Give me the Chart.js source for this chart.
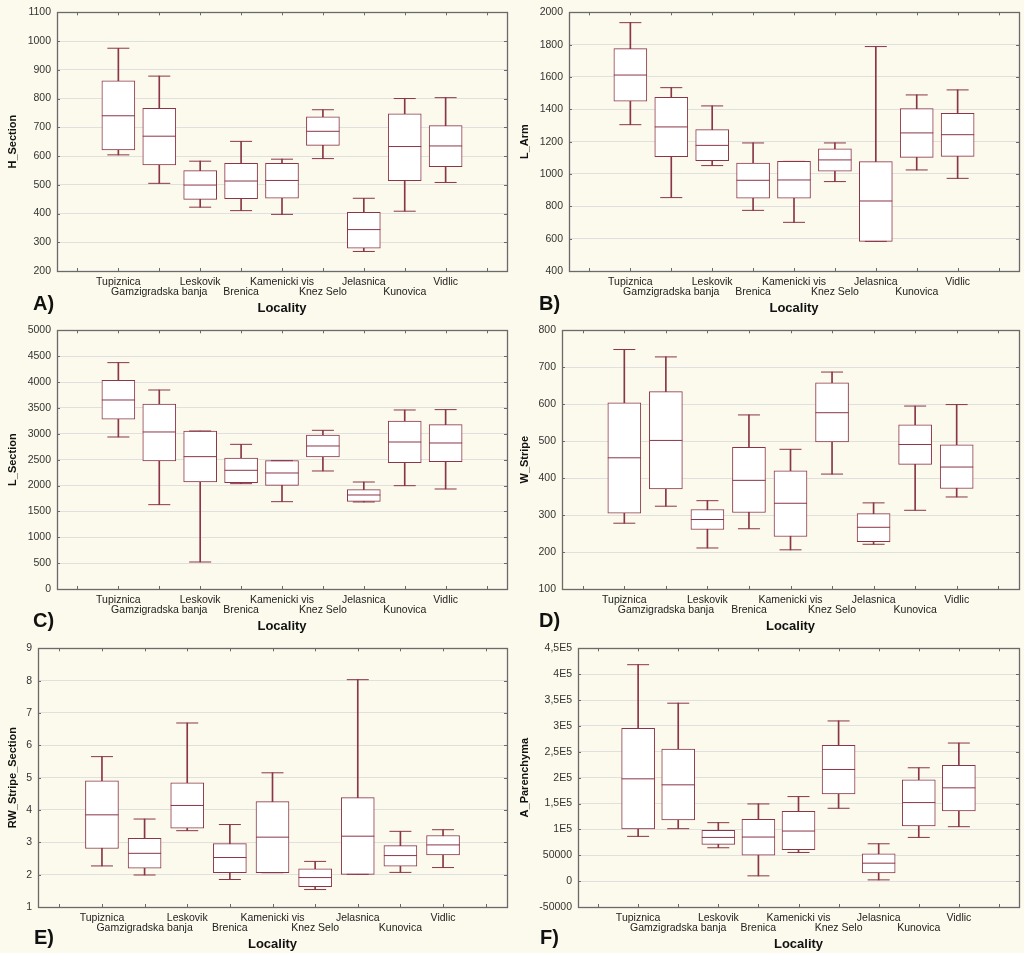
<!DOCTYPE html>
<html><head><meta charset="utf-8">
<script src="https://cdn.jsdelivr.net/npm/chart.js@4.4.1/dist/chart.umd.min.js"></script>
<style>
html,body{margin:0;padding:0;background:#fcfaec;}
#wrap{position:relative;width:1024px;height:953px;overflow:hidden;background:#fcfaec;}
.pc{position:absolute;}
.plabel{position:absolute;font:bold 20px 'Liberation Sans',Arial,sans-serif;color:#111;line-height:20px;}
</style></head><body><div id="wrap"></div>
<script>
// ---- categories ----
const localities = ['Tupiznica','Gamzigradska banja','Leskovik','Brenica','Kamenicki vis','Knez Selo','Jelasnica','Kunovica','Vidlic'];

// ---- A) H_Section ----
const hMin = [604, 505, 422, 410, 397, 591, 268, 408, 508];
const hQ1  = [621, 569, 449, 452, 453, 637, 279, 514, 563];
const hMed = [740, 669, 499, 513, 515, 686, 344, 633, 635];
const hQ3  = [862, 766, 549, 575, 575, 736, 404, 747, 706];
const hMax = [975, 878, 582, 651, 589, 761, 453, 800, 803];

// ---- B) L_Arm ----
const aMin = [1305, 854, 1052, 775, 701, 953, 583, 1025, 973];
const aQ1  = [1450, 1107, 1083, 850, 850, 1017, 583, 1103, 1109];
const aMed = [1612, 1291, 1177, 961, 963, 1087, 833, 1254, 1243];
const aQ3  = [1775, 1474, 1274, 1068, 1078, 1155, 1076, 1404, 1375];
const aMax = [1936, 1534, 1421, 1192, 1078, 1192, 1788, 1489, 1520];

// ---- C) L_Section ----
const lMin = [2938, 1630, 522, 2036, 1688, 2281, 1682, 1997, 1933];
const lQ1  = [3280, 2474, 2068, 2055, 2004, 2551, 1695, 2442, 2461];
const lMed = [3653, 3035, 2558, 2294, 2242, 2764, 1817, 2841, 2822];
const lQ3  = [4033, 3576, 3054, 2532, 2481, 2977, 1920, 3247, 3176];
const lMax = [4375, 3846, 3054, 2796, 2481, 3067, 2068, 3460, 3467];

// ---- D) W_Stripe ----
const wMin = [278, 324, 211, 263, 206, 411, 221, 313, 349];
const wQ1  = [305, 371, 261, 307, 242, 498, 228, 437, 372];
const wMed = [455, 502, 288, 394, 332, 577, 267, 491, 430];
const wQ3  = [604, 634, 315, 483, 420, 658, 304, 544, 490];
const wMax = [748, 728, 339, 571, 478, 687, 333, 595, 599];

// ---- E) RW_Stripe_Section ----
const rMin = [2.27, 1.99, 3.36, 1.85, 2.06, 1.54, 2.01, 2.07, 2.22];
const rQ1  = [2.81, 2.20, 3.44, 2.06, 2.06, 1.63, 2.01, 2.26, 2.61];
const rMed = [3.85, 2.66, 4.14, 2.53, 3.16, 1.91, 3.19, 2.59, 2.92];
const rQ3  = [4.90, 3.12, 4.84, 2.96, 4.26, 2.18, 4.38, 2.90, 3.21];
const rMax = [5.65, 3.72, 6.69, 3.55, 5.15, 2.41, 8.03, 3.34, 3.39];

// ---- F) A_Parenchyma ----
const pMin = [86500, 101400, 64500, 10200, 55400, 140800, 2400, 84500, 105200];
const pQ1  = [100700, 118200, 71000, 50300, 60600, 168600, 16000, 106500, 135600];
const pMed = [197700, 186100, 84500, 85200, 96800, 215800, 34700, 151800, 180300];
const pQ3  = [295400, 255300, 98100, 119500, 135000, 262400, 52800, 195800, 223600];
const pMax = [418300, 343900, 113000, 149200, 163400, 309600, 72200, 219100, 266900];
const pTickLabels = ['-50000','0','50000','1E5','1,5E5','2E5','2,5E5','3E5','3,5E5','4E5','4,5E5'];

// ---- drawing ----
const FONT = "'Liberation Sans', Arial, sans-serif";
const BOXC = '#8a3648';
const FRAME = '#6a6a6a';
const PADT = 8, PADR = 4, XH = 45;

const framePlugin = {
  id: 'frame',
  afterDraw(chart) {
    const {ctx, chartArea: a, scales: {x, y}} = chart;
    ctx.save();
    ctx.strokeStyle = FRAME;
    ctx.lineWidth = 1;
    ctx.beginPath();
    for (let i = 0; i < x.ticks.length; i++) {
      const px = Math.round(x.getPixelForTick(i)) + 0.5;
      ctx.moveTo(px, a.bottom); ctx.lineTo(px, a.bottom - 3);
      ctx.moveTo(px, a.top); ctx.lineTo(px, a.top + 3);
    }
    for (let i = 0; i < y.ticks.length; i++) {
      const py = Math.round(y.getPixelForTick(i)) + 0.5;
      ctx.moveTo(a.left, py); ctx.lineTo(a.left + 3, py);
      ctx.moveTo(a.right, py); ctx.lineTo(a.right - 3, py);
    }
    ctx.stroke();
    ctx.lineWidth = 1.3;
    ctx.strokeRect(Math.round(a.left) + 0.5, Math.round(a.top) + 0.5,
                   Math.round(a.right - a.left), Math.round(a.bottom - a.top));
    ctx.restore();
  }
};

function pad(arr) { return [null, ...arr, null]; }

function makeConfig(p, yw) {
  const pt = (data, r, order) => ({
    type: 'line', data: pad(data), showLine: false, pointStyle: 'line',
    pointRadius: r, pointHoverRadius: r, pointBorderColor: BOXC, pointBorderWidth: 1,
    pointBackgroundColor: BOXC, order
  });
  return {
    type: 'bar',
    data: {
      labels: ['', ...localities, ''],
      datasets: [
        pt(p.med, 16.5, 0),
        pt(p.max, 11, 1),
        pt(p.min, 11, 1),
        { type: 'bar', data: pad(p.q1.map((v, i) => [v, p.q3[i]])), backgroundColor: '#ffffff',
          borderColor: BOXC, borderWidth: 1, borderSkipped: false, barThickness: 33, grouped: false, order: 2 },
        { type: 'bar', data: pad(p.min.map((v, i) => [v, p.max[i]])), backgroundColor: BOXC,
          borderWidth: 0, barThickness: 1, grouped: false, order: 3 }
      ]
    },
    options: {
      responsive: false, maintainAspectRatio: false, animation: false,
      layout: { autoPadding: false, padding: { top: PADT, right: PADR, left: 0, bottom: 0 } },
      plugins: { legend: { display: false }, tooltip: { enabled: false } },
      scales: {
        x: {
          type: 'category', offset: true,
          grid: { display: false, drawTicks: false },
          border: { display: false },
          ticks: {
            autoSkip: false, maxRotation: 0, minRotation: 0, padding: 6,
            color: '#222', font: { family: FONT, size: 10.5, lineHeight: 0.95 },
            callback: function (val, idx) {
              const name = this.getLabelForValue(val);
              if (!name) return '';
              return (idx % 2 === 1) ? [name] : ['', name];
            }
          },
          title: { display: true, text: 'Locality', color: '#111',
                   font: { family: FONT, size: 13, weight: 'bold', lineHeight: 1.2 },
                   padding: { top: 0, bottom: 0 } },
          afterFit(s) { s.height = XH; }
        },
        y: {
          type: 'linear', min: p.yMin, max: p.yMax,
          grid: { color: '#e0e0e0', drawTicks: false, lineWidth: 1 },
          border: { display: false },
          ticks: {
            stepSize: p.step, padding: 6, color: '#333',
            font: { family: FONT, size: 10.5 },
            callback: p.tickLabels ? ((v, i) => p.tickLabels[i]) : (v => String(v))
          },
          title: { display: true, text: p.title, color: '#111',
                   font: { family: FONT, size: 11, weight: 'bold', lineHeight: 1.2 },
                   padding: { top: 6.4, bottom: 0 } },
          afterFit(s) { s.width = yw; }
        }
      }
    },
    plugins: [framePlugin]
  };
}

function makePanel(p) {
  const wrap = document.getElementById('wrap');
  const cv = document.createElement('canvas');
  const w = p.R + PADR - p.px, h = p.B - p.T + PADT + XH;
  cv.className = 'pc';
  cv.style.left = p.px + 'px';
  wrap.appendChild(cv);
  const yw = p.L - p.px;

  const lab = document.createElement('div');
  lab.className = 'plabel';
  lab.textContent = p.letter;
  lab.style.left = p.lx + 'px'; lab.style.top = p.ly + 'px';
  wrap.appendChild(lab);

  const build = (hh) => {
    cv.width = w; cv.height = hh;
    cv.style.width = w + 'px'; cv.style.height = hh + 'px';
    return new Chart(cv, makeConfig(p, yw));
  };
  let chart = build(h);
  const dt = Math.round(chart.chartArea.top - PADT);
  if (dt !== 0) {
    chart.destroy();
    chart = build(h + dt);
  }
  cv.style.top = Math.round(p.T - chart.chartArea.top) + 'px';
}

makePanel({px: 0, L: 57, T: 12, R: 507, B: 271, yMin: 200, yMax: 1100, step: 100, title: 'H_Section',
  min: hMin, q1: hQ1, med: hMed, q3: hQ3, max: hMax, letter: 'A)', lx: 33, ly: 293});
makePanel({px: 512, L: 569, T: 12, R: 1019, B: 271, yMin: 400, yMax: 2000, step: 200, title: 'L_Arm',
  min: aMin, q1: aQ1, med: aMed, q3: aQ3, max: aMax, letter: 'B)', lx: 539, ly: 293});
makePanel({px: 0, L: 57, T: 330, R: 507, B: 589, yMin: 0, yMax: 5000, step: 500, title: 'L_Section',
  min: lMin, q1: lQ1, med: lMed, q3: lQ3, max: lMax, letter: 'C)', lx: 33, ly: 610});
makePanel({px: 512, L: 562, T: 330, R: 1019, B: 589, yMin: 100, yMax: 800, step: 100, title: 'W_Stripe',
  min: wMin, q1: wQ1, med: wMed, q3: wQ3, max: wMax, letter: 'D)', lx: 539, ly: 610});
makePanel({px: 0, L: 38, T: 648, R: 507, B: 907, yMin: 1, yMax: 9, step: 1, title: 'RW_Stripe_Section',
  min: rMin, q1: rQ1, med: rMed, q3: rQ3, max: rMax, letter: 'E)', lx: 34, ly: 927});
makePanel({px: 512, L: 578, T: 648, R: 1019, B: 907, yMin: -50000, yMax: 450000, step: 50000, title: 'A_Parenchyma',
  min: pMin, q1: pQ1, med: pMed, q3: pQ3, max: pMax, tickLabels: pTickLabels, letter: 'F)', lx: 540, ly: 927});
</script>
</body></html>
